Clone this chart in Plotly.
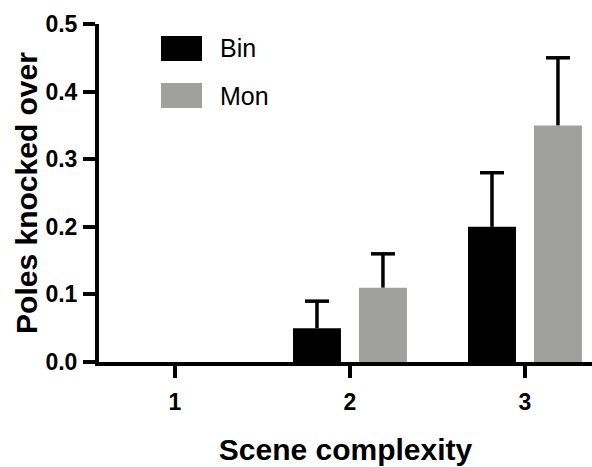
import plotly.graph_objects as go

categories = [1, 2, 3]
series_names = ["Bin", "Mon"]
bin_values = [0.0, 0.05, 0.20]
bin_errors = [0.0, 0.04, 0.08]
mon_values = [0.0, 0.11, 0.35]
mon_errors = [0.0, 0.05, 0.10]
y_ticks = [0.0, 0.1, 0.2, 0.3, 0.4, 0.5]
y_ticklabels = ["0.0", "0.1", "0.2", "0.3", "0.4", "0.5"]

colors = ["#000000", "#a0a09e"]
FONT = "Liberation Sans, Arial, Helvetica, sans-serif"

W, H = 592, 467
L, R, T, B = 99, 0, 24, 105
X_RANGE = [0.566, 3.383]
BARGAP, BARGROUPGAP = 0.246, 0.273
CAP_PX = 12

pw, ph = W - L - R, H - T - B
px_per_unit = pw / (X_RANGE[1] - X_RANGE[0])
slot = (1 - BARGAP) / len(series_names)
offsets = [(i - (len(series_names) - 1) / 2) * slot for i in range(len(series_names))]
cap_half = CAP_PX / px_per_unit

fig = go.Figure()
for name, vals, col in zip(series_names, [bin_values, mon_values], colors):
    fig.add_trace(go.Bar(
        x=categories, y=vals, name=name,
        marker=dict(color=col, line=dict(width=0)),
        showlegend=False,
    ))

# one-sided (upper) error bars, drawn as line segments above each bar
for off, vals, errs in zip(offsets, [bin_values, mon_values], [bin_errors, mon_errors]):
    xs, ys = [], []
    for c, v, e in zip(categories, vals, errs):
        if e <= 0:
            continue
        xc = c + off
        xs += [xc, xc, None, xc - cap_half, xc + cap_half, None]
        ys += [v, v + e, None, v + e, v + e, None]
    fig.add_trace(go.Scatter(x=xs, y=ys, mode="lines",
                             line=dict(color="#000000", width=3.5),
                             hoverinfo="skip", showlegend=False))

# manual legend (large swatches)
def px_x(x): return (x - L) / pw
def px_y(y): return (H - B - y) / ph

legend_rows = [(36, 61), (83, 108)]
for (y0, y1), name, col in zip(legend_rows, series_names, colors):
    fig.add_shape(type="rect", xref="paper", yref="paper",
                  x0=px_x(161), x1=px_x(202), y0=px_y(y1), y1=px_y(y0),
                  fillcolor=col, line=dict(width=0))
    fig.add_annotation(xref="paper", yref="paper", x=px_x(218), y=px_y((y0 + y1) / 2),
                       text=name, showarrow=False, xanchor="left", yanchor="middle",
                       font=dict(family=FONT, size=25, color="#000000"))

fig.update_layout(
    width=W, height=H,
    margin=dict(l=L, r=R, t=T, b=B, pad=0),
    plot_bgcolor="white", paper_bgcolor="white",
    barmode="group", bargap=BARGAP, bargroupgap=BARGROUPGAP,
    font=dict(family=FONT, color="#000000"),
    xaxis=dict(
        range=X_RANGE, tickmode="array", tickvals=categories,
        ticktext=[str(c) for c in categories],
        showline=True, linecolor="#000000", linewidth=4,
        ticks="outside", ticklen=12, tickwidth=4, tickcolor="#000000",
        showgrid=False, zeroline=False, automargin=False,
        tickfont=dict(family=FONT, size=23, weight="bold"),
        ticklabelstandoff=4,
        title=dict(text="Scene complexity", standoff=26,
                   font=dict(family=FONT, size=30, weight="bold")),
    ),
    yaxis=dict(
        range=[0, 0.5], tickmode="array", tickvals=y_ticks, ticktext=y_ticklabels,
        showline=True, linecolor="#000000", linewidth=4,
        ticks="outside", ticklen=12, tickwidth=4, tickcolor="#000000",
        showgrid=False, zeroline=False, automargin=False,
        tickfont=dict(family=FONT, size=23, weight="bold"),
        ticklabelstandoff=1,
        title=dict(text="Poles knocked over", standoff=0,
                   font=dict(family=FONT, size=30, weight="bold")),
    ),
)

fig.write_html("out.html", config={"displayModeBar": False},
               post_script="document.body.style.margin='0';document.body.style.overflow='hidden';")
